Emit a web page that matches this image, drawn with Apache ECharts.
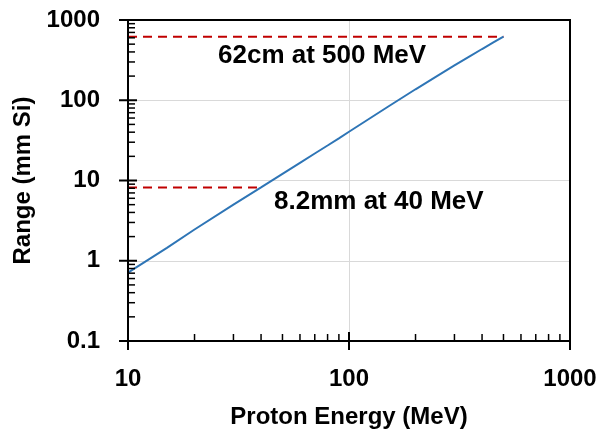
<!DOCTYPE html>
<html><head><meta charset="utf-8">
<script src="https://cdn.jsdelivr.net/npm/echarts@6/dist/echarts.min.js"></script>
<style>html,body{margin:0;padding:0;background:#fff}#c{width:602px;height:430px}</style>
</head><body><div id="c"></div>
<script>
const energies = [10, 15, 20, 30, 40, 50, 60, 70, 80, 90, 100, 150, 200, 250, 300, 350, 400, 450, 500];
const rangeMm  = [0.71, 1.45, 2.45, 5.0, 8.2, 12.1, 16.6, 21.7, 27.3, 33.5, 40.5, 83, 137, 200, 272, 350, 435, 525, 620];
const marker40Energy = 40, marker40Range = 8.2, marker40Label = '8.2mm at 40 MeV';
const marker500Energy = 500, marker500Range = 620, marker500Label = '62cm at 500 MeV';
const xLimits = [10, 1000];
const yLimits = [0.1, 1000];
const xTitle = 'Proton Energy (MeV)';
const yTitle = 'Range (mm Si)';

const FONT = '"Liberation Sans", Arial, sans-serif';
const lbl = {color: '#000', fontFamily: FONT, fontWeight: 'bold', fontSize: 24};

// tick marks (decades: major, 2..9: minor) derived from the axis limits
function logTicks(lo, hi) {
  const out = [];
  for (let d = lo; d < hi * 0.999; d *= 10) {
    for (let k = 1; k <= 9; k++) out.push({v: +(d * k).toPrecision(3), major: k === 1 ? 1 : 0});
  }
  out.push({v: hi, major: 1});
  return out;
}
// rows: [x value, y value, major flag, axis flag (0 = x axis tick, 1 = y axis tick)]
const tickData = logTicks(xLimits[0], xLimits[1]).map(t => [t.v, yLimits[0], t.major, 0])
  .concat(logTicks(yLimits[0], yLimits[1]).map(t => [xLimits[0], t.v, t.major, 1]));

const fmt = v => String(+(+v).toPrecision(3));

const chart = echarts.init(document.getElementById('c'));
chart.setOption({
  animation: false,
  grid: {left: 128, right: 32, top: 20, bottom: 89, show: false, outerBoundsMode: 'none'},
  xAxis: {
    type: 'log', logBase: 10, min: xLimits[0], max: xLimits[1],
    axisLine: {show: false}, axisTick: {show: false},
    splitLine: {show: true, lineStyle: {color: '#d9d9d9', width: 1}},
    axisLabel: Object.assign({margin: 26, formatter: fmt}, lbl),
    name: xTitle, nameLocation: 'middle', nameGap: 64,
    nameTextStyle: Object.assign({}, lbl)
  },
  yAxis: {
    type: 'log', logBase: 10, min: yLimits[0], max: yLimits[1],
    axisLine: {show: false}, axisTick: {show: false},
    splitLine: {show: true, lineStyle: {color: '#d9d9d9', width: 1}},
    axisLabel: Object.assign({margin: 28, formatter: fmt}, lbl),
    name: yTitle, nameLocation: 'middle', nameGap: 74, nameRotate: 90,
    nameTextStyle: Object.assign({}, lbl)
  },
  series: [
    {type: 'line', name: 'range', showSymbol: false, symbol: 'none',
     lineStyle: {color: '#2e75b6', width: 2}, z: 3,
     data: energies.map((e, i) => [e, rangeMm[i]])},
    {type: 'line', name: 'm40', symbol: 'none',
     lineStyle: {color: '#c00000', width: 2, type: [9, 6]}, z: 2,
     data: [[xLimits[0], marker40Range], [marker40Energy, marker40Range]]},
    {type: 'line', name: 'm500', symbol: 'none',
     lineStyle: {color: '#c00000', width: 2, type: [9, 6]}, z: 2,
     data: [[xLimits[0], marker500Range], [marker500Energy, marker500Range]]},
    {type: 'custom', name: 'frame', clip: false, z: 6, silent: true,
     data: [[xLimits[0], yLimits[0], xLimits[1], yLimits[1]]],
     renderItem: function (params, api) {
       const a = api.coord([api.value(0), api.value(1)]);
       const b = api.coord([api.value(2), api.value(3)]);
       return {type: 'rect', shape: {x: Math.round(a[0]), y: Math.round(b[1]), width: Math.round(b[0] - a[0]), height: Math.round(a[1] - b[1])},
               style: {fill: 'none', stroke: '#000', lineWidth: 2}};
     }},
    {type: 'custom', name: 'ticks', clip: false, z: 6, silent: true,
     data: tickData,
     renderItem: function (params, api) {
       const p = api.coord([api.value(0), api.value(1)]);
       const major = api.value(2) === 1;
       const inLen = major ? 9 : 7;
       const outLen = major ? 9 : 0;
       const wid = major ? 2 : 1.5;
       const shape = api.value(3) === 0
         ? {x1: p[0], y1: p[1] + outLen, x2: p[0], y2: p[1] - inLen}
         : {x1: p[0] - outLen, y1: p[1], x2: p[0] + inLen, y2: p[1]};
       return {type: 'line', shape: shape, style: {stroke: '#000', lineWidth: wid}};
     }}
  ]
});
// annotation texts anchored to data positions through the chart's scales
const p500 = chart.convertToPixel({gridIndex: 0}, [xLimits[0], marker500Range]);
const p40 = chart.convertToPixel({gridIndex: 0}, [marker40Energy, marker40Range]);
chart.setOption({
  graphic: [
    {type: 'text', x: 218, y: p500[1] + 19, style: {text: marker500Label, fill: '#000', font: 'bold 26px ' + FONT, verticalAlign: 'middle'}},
    {type: 'text', x: p40[0] + 13, y: p40[1] + 14, style: {text: marker40Label, fill: '#000', font: 'bold 26px ' + FONT, verticalAlign: 'middle'}}
  ]
});
</script></body></html>
